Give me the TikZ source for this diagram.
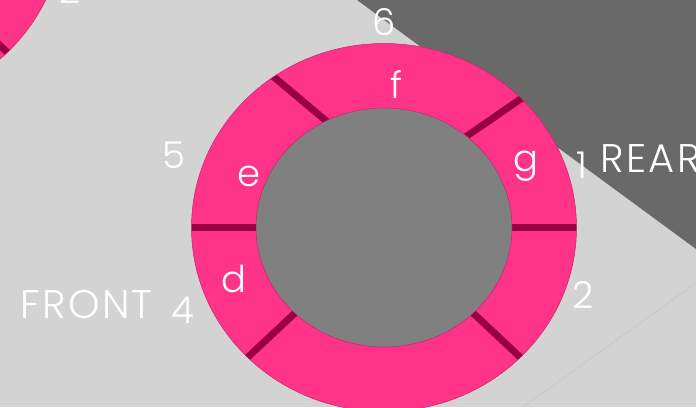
\documentclass[tikz,border=0pt]{standalone}
\usepackage{fontspec}
\setmainfont{Poppins}[UprightFont=* Light]
\newfontfamily\spacedfont{Poppins}[UprightFont=* Light, LetterSpace=6]
\definecolor{bgl}{HTML}{D3D3D3}
\definecolor{bgd}{HTML}{696969}
\definecolor{ringpink}{HTML}{FF3388}
\definecolor{ringedge}{HTML}{C82468}
\definecolor{divcol}{HTML}{990044}
\definecolor{hub}{HTML}{808080}
\definecolor{faint}{HTML}{C6C6C6}
\tikzset{
  lbl/.style={text=white, font=\fontsize{37}{40}\selectfont, inner sep=0pt, anchor=base},
  wide/.style={text=white, font=\spacedfont\fontsize{40}{44}\selectfont, inner sep=0pt, anchor=base west},
  divline/.style={draw=divcol, line width=7pt},
}
\newcommand\mydrawring{%
  \fill[ringpink] (0,0) ellipse [x radius=192.5pt, y radius=184pt];
  \begin{scope}
    \clip (0,0) ellipse [x radius=192.5pt, y radius=184pt];
    \draw[divline] (-200,0) -- (-120,0);
    \draw[divline] (120,0) -- (200,0);
    \draw[divline] (-50,-100) -- (-122,-160.5);
    \draw[divline] (70,-82.6) -- (146,-135);
    \draw[divline] (80,77) -- (145,138);
    \draw[divline] (-80,77) -- (-145,138);
  \end{scope}
  \fill[hub, draw=ringedge, line width=0.5pt] (0,0) ellipse [x radius=128pt, y radius=119.5pt];
  \draw[ringedge, line width=0.5pt] (0,0) ellipse [x radius=192.5pt, y radius=184pt];
}
\begin{document}
\begin{tikzpicture}[x=1pt,y=-1pt]
\useasboundingbox (0,0) rectangle (696,407);
\fill[bgl] (0,0) rectangle (696,407);
\fill[bgd] (357,0) -- (696,0) -- (696,249) -- cycle;
\draw[faint, line width=0.6pt] (696,283) -- (523,407);
\begin{scope}
  \clip (0,0) rectangle (696,407);
  \begin{scope}[shift={(-129,-77.5)}]
    \mydrawring
  \end{scope}
  \begin{scope}[shift={(384,227.5)}]
    \mydrawring
  \end{scope}
  \node[lbl] (n2b) at (70,3) {2};
\end{scope}
\node[lbl] (n6) at (384,35) {6};
\node[lbl] (lf) at (397,98) {f};
\node[lbl] (lg) at (526,171) {g};
\node[lbl] (le) at (249,186) {e};
\node[lbl] (ld) at (233.5,292) {d};
\node[lbl] (n5) at (173.5,168) {5};
\node[lbl] (n1) at (581.5,178) {1};
\node[wide] (rear) at (600,172) {REAR};
\node[lbl] (n2) at (583,308) {2};
\node[lbl] (n4) at (183,323) {4};
\node[wide] (front) at (20,318) {FRONT};
\end{tikzpicture}
\end{document}
